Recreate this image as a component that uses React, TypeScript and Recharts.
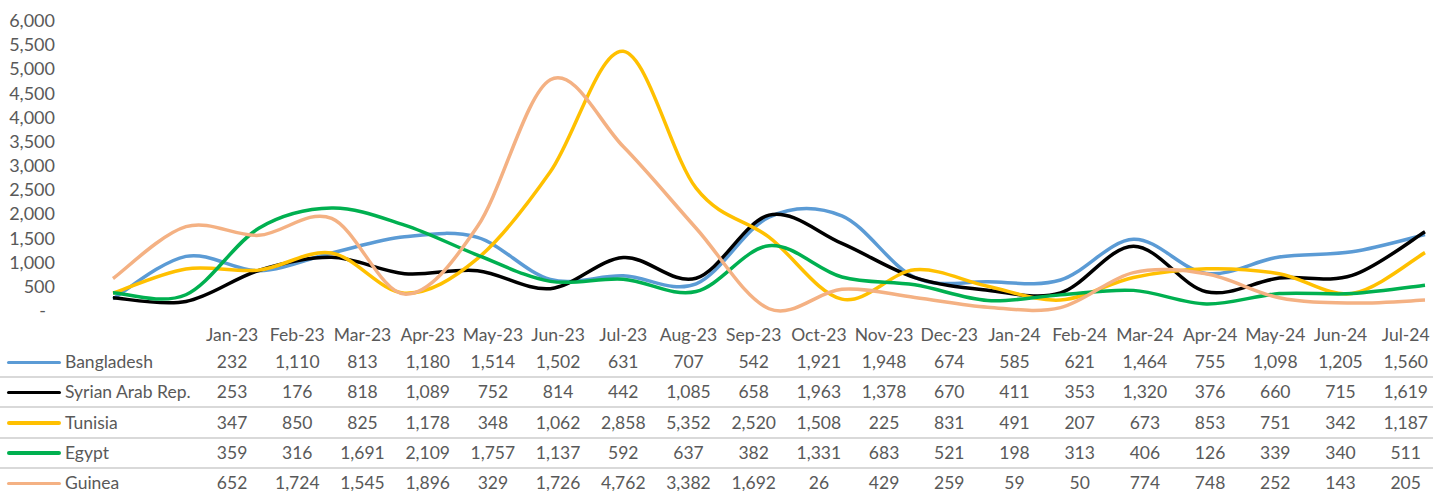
import React from 'react';
import { LineChart, Line, XAxis, YAxis } from 'recharts';

const MONTHS = [
  'Jan-23', 'Feb-23', 'Mar-23', 'Apr-23', 'May-23', 'Jun-23', 'Jul-23', 'Aug-23', 'Sep-23',
  'Oct-23', 'Nov-23', 'Dec-23', 'Jan-24', 'Feb-24', 'Mar-24', 'Apr-24', 'May-24', 'Jun-24', 'Jul-24',
];

const BANGLADESH = [232, 1110, 813, 1180, 1514, 1502, 631, 707, 542, 1921, 1948, 674, 585, 621, 1464, 755, 1098, 1205, 1560];
const SYRIA = [253, 176, 818, 1089, 752, 814, 442, 1085, 658, 1963, 1378, 670, 411, 353, 1320, 376, 660, 715, 1619];
const TUNISIA = [347, 850, 825, 1178, 348, 1062, 2858, 5352, 2520, 1508, 225, 831, 491, 207, 673, 853, 751, 342, 1187];
const EGYPT = [359, 316, 1691, 2109, 1757, 1137, 592, 637, 382, 1331, 683, 521, 198, 313, 406, 126, 339, 340, 511];
const GUINEA = [652, 1724, 1545, 1896, 329, 1726, 4762, 3382, 1692, 26, 429, 259, 59, 50, 774, 748, 252, 143, 205];

const Y_TICKS = [0, 500, 1000, 1500, 2000, 2500, 3000, 3500, 4000, 4500, 5000, 5500, 6000];

const SERIES = [
  { key: 'bangladesh', name: 'Bangladesh', color: '#5B9BD5', values: BANGLADESH },
  { key: 'syria', name: 'Syrian Arab Rep.', color: '#000000', values: SYRIA },
  { key: 'tunisia', name: 'Tunisia', color: '#FFC000', values: TUNISIA },
  { key: 'egypt', name: 'Egypt', color: '#00B050', values: EGYPT },
  { key: 'guinea', name: 'Guinea', color: '#F4B183', values: GUINEA },
];

const chartData = MONTHS.map((month, i) => {
  const row: Record<string, string | number> = { month };
  SERIES.forEach(s => {
    row[s.key] = s.values[i];
  });
  return row;
});

const FONT = 'Lato, "Open Sans", sans-serif';
const TEXT_COLOR = '#595959';
const fmt = (v: number) => v.toLocaleString('en-US');

// Excel-style smoothed line (Catmull-Rom converted to cubic beziers)
const excelSmooth = (context: any) => {
  let pts: number[][] = [];
  return {
    areaStart() {},
    areaEnd() {},
    lineStart() {
      pts = [];
    },
    lineEnd() {
      if (!pts.length) return;
      context.moveTo(pts[0][0], pts[0][1]);
      for (let i = 0; i < pts.length - 1; i++) {
        const p0 = pts[i - 1] || pts[i];
        const p1 = pts[i];
        const p2 = pts[i + 1];
        const p3 = pts[i + 2] || p2;
        context.bezierCurveTo(
          p1[0] + (p2[0] - p0[0]) / 6,
          p1[1] + (p2[1] - p0[1]) / 6,
          p2[0] - (p3[0] - p1[0]) / 6,
          p2[1] - (p3[1] - p1[1]) / 6,
          p2[0],
          p2[1]
        );
      }
    },
    point(x: number, y: number) {
      pts.push([+x, +y]);
    },
  };
};

const YTick = ({ y, payload }: any) => {
  const isZero = payload.value === 0;
  return (
    <text
      x={isZero ? 46 : 55}
      y={y}
      textAnchor="end"
      dominantBaseline="central"
      fill={TEXT_COLOR}
      fontSize={18}
      fontFamily={FONT}
    >
      {isZero ? '-' : fmt(payload.value)}
    </text>
  );
};

const COL_START = 199.5;
const COL_W = 65.2;
const HEADER_Y = 335;
const ROW_Y0 = 362;
const ROW_STEP = 30.3;

export default function App() {
  return (
    <div style={{ position: 'absolute', left: 0, top: 0, width: 1445, height: 491, background: '#fff', fontFamily: FONT, color: TEXT_COLOR }}>
      <LineChart width={1445} height={320} data={chartData} margin={{ top: 20, right: 20, bottom: 10, left: 0 }}>
        <XAxis dataKey="month" hide padding={{ left: 0, right: 0 }} />
        <YAxis
          width={113}
          domain={[0, 6000]}
          ticks={Y_TICKS}
          axisLine={false}
          tickLine={false}
          tick={<YTick />}
          interval={0}
        />
        {SERIES.map(s => (
          <Line
            key={s.key}
            dataKey={s.key}
            name={s.name}
            type={excelSmooth as any}
            stroke={s.color}
            strokeWidth={3.5}
            dot={false}
            activeDot={false}
            isAnimationActive={false}
          />
        ))}
      </LineChart>

      {/* data table under the chart */}
      {MONTHS.map((m, i) => (
        <div
          key={m}
          style={{
            position: 'absolute', left: COL_START + i * COL_W, width: COL_W, top: HEADER_Y - 12,
            height: 24, lineHeight: '24px', textAlign: 'center', fontSize: 17.5, whiteSpace: 'nowrap',
          }}
        >
          {m}
        </div>
      ))}
      {SERIES.map((s, r) => {
        const cy = ROW_Y0 + r * ROW_STEP;
        return (
          <React.Fragment key={s.key}>
            {r > 0 && (
              <div style={{ position: 'absolute', left: 0, width: 1433, top: cy - ROW_STEP / 2 - 1, height: 2, background: '#D9D9D9' }} />
            )}
            <div style={{ position: 'absolute', left: 7, width: 54, top: cy - 1.5, height: 3.5, borderRadius: 2, background: s.color }} />
            <div style={{ position: 'absolute', left: 65, top: cy - 12, height: 24, lineHeight: '24px', fontSize: 17.5, whiteSpace: 'nowrap' }}>
              {s.name}
            </div>
            {s.values.map((v, i) => (
              <div
                key={i}
                style={{
                  position: 'absolute', left: COL_START + i * COL_W, width: COL_W, top: cy - 12,
                  height: 24, lineHeight: '24px', textAlign: 'center', fontSize: 17.5, whiteSpace: 'nowrap',
                }}
              >
                {fmt(v)}
              </div>
            ))}
          </React.Fragment>
        );
      })}
    </div>
  );
}
